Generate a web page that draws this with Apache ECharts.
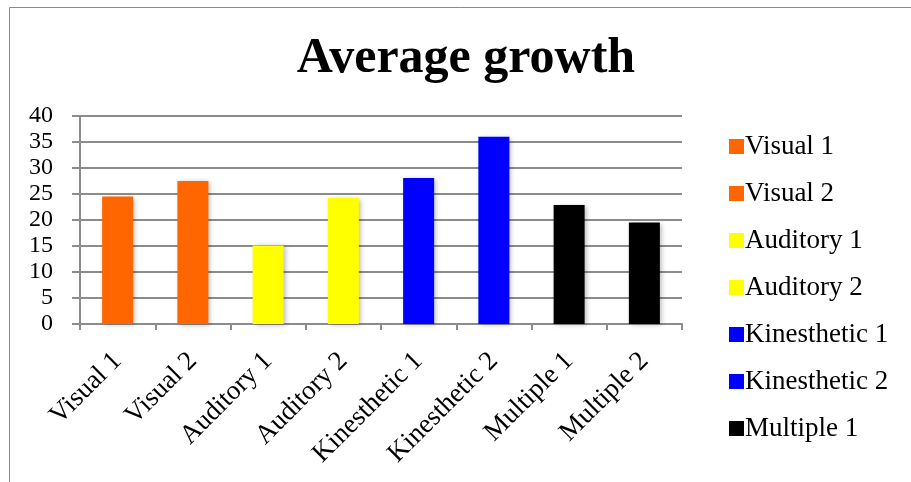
<!DOCTYPE html>
<html>
<head>
<meta charset="utf-8">
<script src="https://cdn.jsdelivr.net/npm/echarts@6/dist/echarts.min.js"></script>
<style>
  html, body { margin: 0; padding: 0; background: #fff; }
  #chart { width: 911px; height: 482px; }
</style>
</head>
<body>
<div id="chart"></div>
<script>
// Learning-style groups and their average growth
const categories = ['Visual 1', 'Visual 2', 'Auditory 1', 'Auditory 2',
  'Kinesthetic 1', 'Kinesthetic 2', 'Multiple 1', 'Multiple 2'];
const growth = [24.5, 27.5, 15.1, 24.3, 28.1, 36.0, 22.9, 19.5];
const barColors = ['#ff6600', '#ff6600', '#ffff00', '#ffff00',
  '#0000ff', '#0000ff', '#000000', '#000000'];
const yTicks = [0, 5, 10, 15, 20, 25, 30, 35, 40];
// entries that fit in the legend column
const legendNames = categories.slice(0, 7);

const serif = '"Liberation Serif", "DejaVu Serif", serif';

// one series per category so each bar gets its own legend entry
const series = categories.map((name, i) => ({
  name: name,
  type: 'bar',
  stack: 'all',
  barWidth: 31,
  data: categories.map((_, j) => (j === i ? growth[i] : '-')),
  itemStyle: {
    color: barColors[i],
    shadowColor: 'rgba(0,0,0,0.28)',
    shadowBlur: 5,
    shadowOffsetX: 2,
    shadowOffsetY: 1
  }
}));

const chart = echarts.init(document.getElementById('chart'));
chart.setOption({
  animation: false,
  backgroundColor: '#ffffff',
  color: barColors,
  graphic: [{
    type: 'rect',
    shape: { x: 9.5, y: 7.5, width: 920, height: 500 },
    style: { fill: 'none', stroke: '#8a8a8a', lineWidth: 1 },
    z: -1
  }],
  title: {
    text: 'Average growth',
    left: 461,
    textAlign: 'center',
    top: 29,
    textStyle: { fontFamily: serif, fontWeight: 'bold', fontSize: 50, color: '#000' }
  },
  legend: {
    orient: 'vertical',
    left: 724,
    top: 128,
    itemWidth: 15,
    itemHeight: 15,
    itemGap: 20,
    icon: 'rect',
    data: legendNames,
    textStyle: { fontFamily: serif, fontSize: 27, lineHeight: 27, color: '#000', padding: [0, 0, 0, -4] }
  },
  grid: { left: 80, right: 229, top: 116, bottom: 158 },
  xAxis: {
    type: 'category',
    data: categories,
    axisLine: { lineStyle: { color: '#8c8c8c', width: 2 } },
    axisTick: { show: true, length: 6, lineStyle: { color: '#8c8c8c', width: 2 } },
    axisLabel: { rotate: 45, fontFamily: serif, fontSize: 27, color: '#000', margin: 33 }
  },
  yAxis: {
    type: 'value',
    min: yTicks[0],
    max: yTicks[yTicks.length - 1],
    interval: yTicks[1] - yTicks[0],
    axisLine: { show: true, lineStyle: { color: '#8c8c8c', width: 2 } },
    axisTick: { show: true, length: 8, lineStyle: { color: '#8c8c8c', width: 2 } },
    splitLine: { lineStyle: { color: '#8c8c8c', width: 2 } },
    axisLabel: { fontFamily: serif, fontSize: 24, color: '#000', margin: 27 }
  },
  series: series
});
</script>
</body>
</html>
